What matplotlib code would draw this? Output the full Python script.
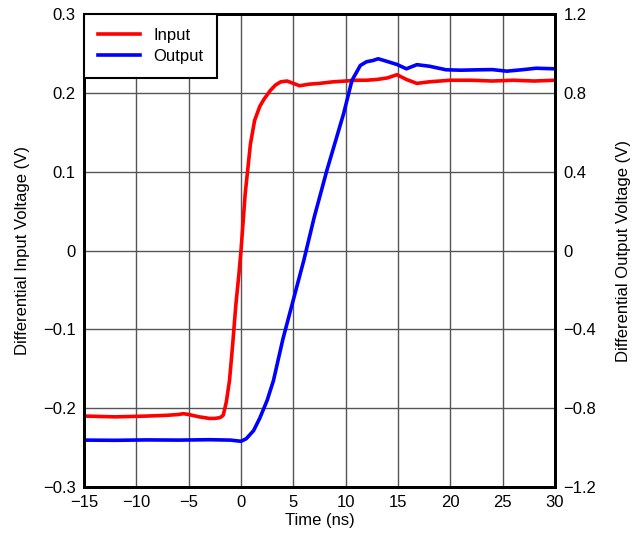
import matplotlib.pyplot as plt

plt.rcParams['font.family'] = ['Liberation Sans', 'DejaVu Sans']

# Input (left axis, V)
in_t = [-15, -12, -9, -7, -6, -5.5, -5, -4, -3, -2.5, -2, -1.7, -1.4, -1.1, -0.8, -0.5, -0.2, 0.0,
        0.4, 0.9, 1.3, 1.8, 2.2, 2.8, 3.3, 3.8, 4.4, 5.0, 5.6, 6.5, 7.5, 8.8, 10, 11, 12, 13,
        14, 14.9, 15.8, 16.8, 18, 20, 22, 24, 26, 28, 30]
in_v = [-0.210, -0.211, -0.210, -0.209, -0.208, -0.207, -0.208, -0.211, -0.213, -0.213, -0.212, -0.209,
        -0.192, -0.165, -0.12, -0.07, -0.03, 0.0,
        0.072, 0.135, 0.165, 0.183, 0.192, 0.203, 0.210, 0.214, 0.215, 0.212, 0.209, 0.211, 0.212,
        0.214, 0.215, 0.216, 0.216, 0.217, 0.219, 0.223, 0.217, 0.212, 0.214, 0.216, 0.216, 0.215,
        0.216, 0.215, 0.216]

# Output (right axis, V)
out_t = [-15, -12, -9, -6, -3, -1, 0.0, 0.5, 1.2, 1.8, 2.5, 3.1, 4.0, 5.0, 6.0, 7.0, 8.2, 9.0,
         9.8, 10.6, 11.4, 12.0, 12.6, 13.1, 13.8, 14.9, 15.8, 16.8, 18, 19.6, 21, 22.8, 24,
         25.4, 27, 28.2, 30]
out_v = [-0.962, -0.963, -0.961, -0.962, -0.960, -0.962, -0.968, -0.955, -0.914, -0.85, -0.76, -0.66,
         -0.45, -0.25, -0.05, 0.17, 0.406, 0.55, 0.694, 0.863, 0.939, 0.958, 0.964, 0.973, 0.962,
         0.944, 0.922, 0.943, 0.935, 0.917, 0.915, 0.917, 0.918, 0.910, 0.918, 0.925, 0.922]

fig = plt.figure(figsize=(6.33, 5.35), dpi=100)
ax = fig.add_axes([0.1327, 0.0897, 0.7441, 0.8841])
ax2 = ax.twinx()

l1, = ax.plot(in_t, in_v, color='#ff0000', lw=2.6, label='Input')
l2, = ax2.plot(out_t, out_v, color='#0000ff', lw=2.6, label='Output')

ax.set_xlim(-15, 30)
ax.set_ylim(-0.3, 0.3)
ax2.set_ylim(-1.2, 1.2)
ax.set_xticks(range(-15, 31, 5))
ax.set_xticklabels([str(t).replace('-', '\u2212') for t in range(-15, 31, 5)])
ax.set_yticks([-0.3, -0.2, -0.1, 0, 0.1, 0.2, 0.3])
ax.set_yticklabels(['\u22120.3', '\u22120.2', '\u22120.1', '0', '0.1', '0.2', '0.3'])
ax2.set_yticks([-1.2, -0.8, -0.4, 0, 0.4, 0.8, 1.2])
ax2.set_yticklabels(['\u22121.2', '\u22120.8', '\u22120.4', '0', '0.4', '0.8', '1.2'])

ax.grid(True, color='#555555', lw=1.0)
for a in (ax, ax2):
    a.tick_params(length=0, labelsize=12, pad=6)
    for s in a.spines.values():
        s.set_linewidth(2)

ax.set_xlabel('Time (ns)', fontsize=12, labelpad=2)
ax.set_ylabel('Differential Input Voltage (V)', fontsize=12, labelpad=9)
ax2.set_ylabel('Differential Output Voltage (V)', fontsize=12, labelpad=14)

leg = ax2.legend(handles=[l1, l2], loc='upper left', fontsize=12, frameon=True, fancybox=False,
                 borderaxespad=0, handlelength=2.5, borderpad=0.85, labelspacing=0.35)
leg.get_frame().set_edgecolor('black')
leg.get_frame().set_linewidth(1.5)
leg.get_frame().set_alpha(1)

fig.savefig('out.png', dpi=100)
